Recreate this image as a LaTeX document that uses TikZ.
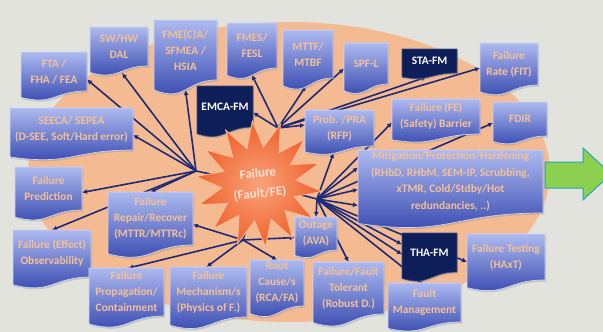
\documentclass[tikz,border=0pt]{standalone}
\usepackage{fontspec}
\setmainfont{Carlito}
\usetikzlibrary{shapes.geometric,calc,shadows,arrows.meta}

\definecolor{bgcol}{HTML}{E3E3DD}
\definecolor{ellcol}{HTML}{F4BB92}
\definecolor{boxtop}{HTML}{ADBAF0}
\definecolor{boxbot}{HTML}{3143AC}
\definecolor{boxedge}{HTML}{CDD4F4}
\definecolor{boxtext}{HTML}{F6C096}
\definecolor{navy}{HTML}{0E1E58}
\definecolor{navyedge}{HTML}{3A4A85}
\definecolor{linkcol}{HTML}{1C2A78}
\definecolor{starout}{HTML}{EF612A}
\definecolor{starin}{HTML}{F9A27C}
\definecolor{staredge}{HTML}{FBBC9C}
\definecolor{startext}{HTML}{FDE3D3}
\definecolor{arrowgreen}{HTML}{8DCF4F}
\definecolor{arrowteal}{HTML}{1EA9BE}

\pgfdeclarelayer{back}
\pgfdeclarelayer{wires}
\pgfsetlayers{back,wires,main}

% Rectangle with a wavy "document" bottom edge
\makeatletter
\newdimen\dwxa \newdimen\dwya \newdimen\dwxb \newdimen\dwyb
\newdimen\dwh \newdimen\dwm
\pgfdeclareshape{docwave}{
  \inheritsavedanchors[from=rectangle]
  \inheritanchorborder[from=rectangle]
  \inheritanchor[from=rectangle]{center}
  \inheritanchor[from=rectangle]{mid}
  \inheritanchor[from=rectangle]{base}
  \inheritanchor[from=rectangle]{text}
  \inheritanchor[from=rectangle]{north}
  \inheritanchor[from=rectangle]{south}
  \inheritanchor[from=rectangle]{east}
  \inheritanchor[from=rectangle]{west}
  \inheritanchor[from=rectangle]{north east}
  \inheritanchor[from=rectangle]{north west}
  \inheritanchor[from=rectangle]{south east}
  \inheritanchor[from=rectangle]{south west}
  \backgroundpath{%
    \southwest \dwxa=\pgf@x \dwya=\pgf@y
    \northeast \dwxb=\pgf@x \dwyb=\pgf@y
    \dwh=\dwyb \advance\dwh by -\dwya
    \dwm=\dwxa \advance\dwm by \dwxb \divide\dwm by 2
    \pgfpathmoveto{\pgfqpoint{\dwxa}{\dwyb}}%
    \pgfpathlineto{\pgfqpoint{\dwxb}{\dwyb}}%
    \pgfpathlineto{\pgfqpoint{\dwxb}{\dwya}}%
    \pgfpathcurveto{\pgfqpoint{\dwm}{\dwya}}%
      {\pgfpoint{\dwm}{\dwya-0.38\dwh}}%
      {\pgfpoint{\dwxa}{\dwya-0.165\dwh}}%
    \pgfpathclose
  }
}
\makeatother

\tikzset{
  doc/.style={shape=docwave, outer sep=0pt, inner sep=0.5pt, align=center,
    top color=boxtop, bottom color=boxbot, draw=boxedge, line width=0.7pt,
    text=boxtext, font=\bfseries\fontsize{11.4}{16}\selectfont,
    drop shadow={shadow xshift=1.2pt, shadow yshift=-1.6pt, opacity=0.3}},
  darkdoc/.style={shape=docwave, outer sep=0pt, inner sep=0.5pt, align=center,
    fill=navy, draw=navyedge, line width=0.7pt,
    text=white, font=\bfseries\fontsize{11.4}{16}\selectfont,
    drop shadow={shadow xshift=1.2pt, shadow yshift=-1.6pt, opacity=0.3}},
  burst/.style={shape=star, star points=14, star point ratio=1.7,
    minimum size=118pt, inner sep=0pt, align=center, rotate=6,
    inner color=starin, outer color=starout, draw=staredge, line width=0.8pt,
    text=startext, font=\bfseries\fontsize{13}{20}\selectfont},
  conn/.style={draw=linkcol, line width=1.6pt, line cap=round,
    -{Latex[length=5pt,width=5pt]}},
  wire/.style={draw=linkcol, line width=1.6pt, line cap=round},
}

\begin{document}
\begin{tikzpicture}[x=1pt, y=-1pt]
\useasboundingbox (0,0) rectangle (603,332);
\begin{pgfonlayer}{back}
  \fill[bgcol] (0,0) rectangle (603,332);
  \fill[ellcol] (289,172) ellipse [x radius=261pt, y radius=150pt];
\end{pgfonlayer}

% top row
\node[doc, minimum width=66pt, minimum height=39pt] (fta) at (54,71.5) {FTA /\\FHA / FEA};
\node[doc, minimum width=58pt, minimum height=39pt] (swhw) at (119,46.5) {SW/HW\\DAL};
\node[doc, minimum width=63pt, minimum height=60pt] (fme) at (185.5,50) {FME(C)A/\\SFMEA /\\HSIA};
\node[doc, minimum width=50pt, minimum height=45pt] (fmes) at (252,45.5) {FMES/\\FESL};
\node[doc, minimum width=50pt, minimum height=48pt] (mttf) at (308,54) {MTTF/\\MTBF};
\node[doc, minimum width=44pt, minimum height=41pt] (spfl) at (366,63.5) {SPF-L};
\node[darkdoc, minimum width=55pt, minimum height=24pt] (sta) at (429.5,61) {STA-FM};
\node[doc, minimum width=58pt, minimum height=42pt] (fit) at (509,64) {Failure\\Rate (FIT)};

% middle band
\node[darkdoc, minimum width=56pt, minimum height=41pt] (emca) at (225,106.5) {EMCA-FM};
\node[doc, minimum width=123pt, minimum height=42pt] (seeca) at (71.5,129) {SEECA/ SEPEA\\(D-SEE, Soft/Hard error)};
\node[doc, minimum width=69pt, minimum height=36pt] (prob) at (339.5,128) {Prob. /PRA\\(RFP)};
\node[doc, minimum width=88pt, minimum height=35pt] (barrier) at (436,116.5) {Failure (FE)\\(Safety) Barrier};
\node[doc, minimum width=54pt, minimum height=34pt] (fdir) at (520,119) {FDIR};
\node[doc, minimum width=185pt, minimum height=63pt, font=\bfseries\fontsize{11.4}{16.5}\selectfont] (mitig) at (450.5,181.5)
  {Mitigation/Protection/Hardening\\(RHbD, RHbM, SEM-IP, Scrubbing,\\xTMR, Cold/Stdby/Hot\\redundancies, ..)};
\node[doc, minimum width=67pt, minimum height=43pt] (pred) at (48.5,188.5) {Failure\\Prediction};
\node[doc, minimum width=85pt, minimum height=53pt] (repair) at (150.5,218.5) {Failure\\Repair/Recover\\(MTTR/MTTRc)};
\node[doc, minimum width=42pt, minimum height=33pt] (outage) at (316,233.5) {Outage\\(AVA)};

% bottom row
\node[doc, minimum width=78pt, minimum height=47pt] (obs) at (52,253.5) {Failure (Effect)\\Observability};
\node[doc, minimum width=75pt, minimum height=48pt] (prop) at (126.5,292) {Failure\\Propagation/\\Containment};
\node[doc, minimum width=77pt, minimum height=50pt] (mech) at (208.5,292) {Failure\\Mechanism/s\\(Physics of F.)};
\node[doc, minimum width=54pt, minimum height=46pt] (root) at (277,283) {Root\\Cause/s\\(RCA/FA)};
\node[doc, minimum width=71pt, minimum height=52pt] (toler) at (348.5,288) {Failure/Fault\\Tolerant\\(Robust D.)};
\node[doc, minimum width=73pt, minimum height=39pt] (fmgmt) at (424.5,302.5) {Fault\\Management};
\node[darkdoc, minimum width=55pt, minimum height=39pt] (tha) at (429.5,252.5) {THA-FM};
\node[doc, minimum width=78pt, minimum height=46pt] (test) at (506,257) {Failure Testing\\(HAxT)};

% central burst
\node[burst] (star) at (259,184) {Failure\\(Fault/FE)};

% junction points of the spokes
\coordinate (hubL) at (196,171);
\coordinate (hubT) at (278,128);
\coordinate (hubR) at (317,199);
\coordinate (hubB) at (243,240);

% outgoing arrow
\draw[fill=arrowgreen, draw=arrowteal, line width=1pt]
  (545,162) -- (583,162) -- (583,148) -- (611,174) -- (583,200) -- (583,188) -- (545,188) -- cycle;

\begin{pgfonlayer}{wires}
  % left junction
  \draw[wire] (hubL) -- (star.center);
  \draw[conn] (hubL) -- ($(fta.east)+(0,8)$);
  \draw[conn] (hubL) -- ($(swhw.south)+(3,7)$);
  \draw[conn] (hubL) -- ($(fme.south)+(0,10)$);
  \draw[conn] (hubL) -- ($(seeca.east)+(0,6)$);
  \draw[conn] (hubL) -- ($(pred.east)+(0,4)$);
  \draw[conn] (hubL) -- (obs.north);
  \draw[conn] (hubL) -- (repair.north);
  % top junction
  \draw[wire] (hubT) -- (star.center);
  \draw[conn] (hubT) -- ($(emca.east)+(0,6)$);
  \draw[conn] (hubT) -- ($(fmes.south)+(0,7)$);
  \draw[conn] (hubT) -- ($(mttf.south)+(-2,8)$);
  \draw[conn] (hubT) -- ($(spfl.west)+(0,5)$);
  \draw[conn] (hubT) -- ($(sta.south)+(-3,4)$);
  \draw[conn] (hubT) -- ($(fit.west)+(0,4)$);
  \draw[conn] (hubT) -- ($(prob.west)+(0,-3)$);
  % right junction
  \draw[wire] (hubR) -- (star.center);
  \draw[conn] (hubR) -- ($(prob.south)+(-6,7)$);
  \draw[conn] (hubR) -- ($(barrier.west)+(0,6)$);
  \draw[conn] (hubR) -- ($(fdir.west)+(0,4)$);
  \draw[conn] (hubR) -- ($(mitig.west)+(0,-14)$);
  \draw[conn] (hubR) -- ($(mitig.west)+(0,8)$);
  \draw[conn] (hubR) -- ($(mitig.west)+(0,24)$);
  \draw[conn] (hubR) -- ($(tha.west)+(0,-8)$);
  \draw[conn] (hubR) -- ($(tha.west)+(0,2)$);
  \draw[conn] (hubR) -- ($(test.west)+(0,5)$);
  \draw[conn] (hubR) -- ($(fmgmt.north)+(-2,0)$);
  \draw[conn] (hubR) -- (toler.north);
  \draw[conn] (hubR) -- (outage.north);
  % bottom junction
  \draw[wire] (hubB) -- (star.center);
  \draw[conn] (hubB) -- ($(repair.east)+(0,6)$);
  \draw[conn] (hubB) -- ($(prop.north)+(2,0)$);
  \draw[conn] (hubB) -- ($(mech.north)+(-2,0)$);
  \draw[conn] (hubB) -- (root.north);
  \draw[conn] (hubB) -- ($(outage.west)+(0,4)$);
\end{pgfonlayer}
\end{tikzpicture}
\end{document}
